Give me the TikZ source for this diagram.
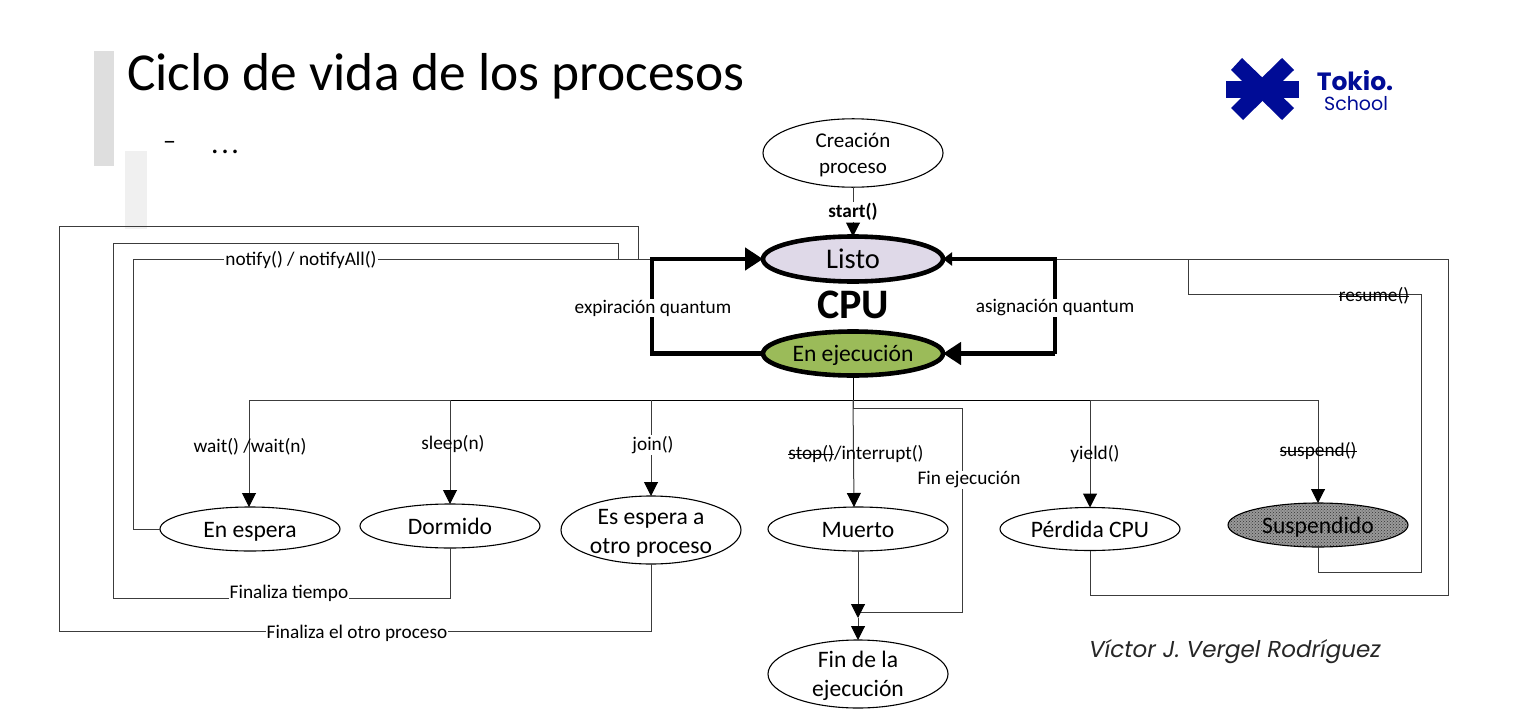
\documentclass[tikz,border=0pt]{standalone}
\usepackage{fontspec}
\setmainfont{Carlito}
\newfontfamily\logofont{Poppins}
\newfontfamily\signfont{Poppins}
\usetikzlibrary{arrows.meta,shapes.geometric,patterns}
\definecolor{tokio}{HTML}{000C96}
\definecolor{lineg}{HTML}{3C3C3C}
\definecolor{listocol}{HTML}{DFD9E8}
\definecolor{ejecol}{HTML}{9BBB59}
\newcommand\strk[1]{\sbox0{#1}\rlap{\rule[0.26em]{\wd0}{0.7pt}}\box0}
\newcommand\lw{\rule[-5pt]{0pt}{26pt}}
\tikzset{
  st/.style={draw=black,ellipse,fill=white,line width=1.1pt,inner sep=0pt,outer sep=0pt,minimum width=180pt,align=center,font=\fontsize{23.6}{29}\selectfont},
  cpust/.style={st,line width=4.6pt},
  twolines/.style={st,minimum height=68pt,inner ysep=-6pt},
  lnk/.style={draw=lineg,line width=1pt},
  arr/.style={lnk,-{Triangle[length=14pt,width=14pt,color=black,fill=black]}},
  heavy/.style={draw=black,line width=4.6pt,line join=miter},
  lab/.style={inner sep=1pt,font=\fontsize{19.3}{22}\selectfont},
  labw/.style={lab,fill=white},
}
\begin{document}
\begin{tikzpicture}[x=1pt,y=-1pt]
\useasboundingbox (0,0) rectangle (1528,709);
\fill[white] (0,0) rectangle (1528,709);
% decorative bars
\fill[black!13] (94,51) rectangle (114,166);
\fill[black!6] (125,151) rectangle (147,229);
\node[anchor=west,inner sep=0pt,font=\fontsize{53.4}{60}\selectfont] (title) at (127,76) {Ciclo de vida de los procesos};
\node[anchor=west,inner sep=0pt,font=\fontsize{26}{30}\selectfont] (dash) at (163,145) {–};
\node[anchor=west,inner sep=0pt,font=\fontsize{30}{30}\selectfont] (dots) at (211,151.5) {.\kern2.5pt.\kern2.5pt.};
% logo
\fill[tokio] (1226,81) rectangle (1299,98);
\fill[tokio] (1231,70) -- (1242,58) -- (1294,108) -- (1282,120) -- cycle;
\fill[tokio] (1294,70) -- (1282,58) -- (1231,108) -- (1243,120) -- cycle;
\node[inner sep=0pt,text=tokio,font=\logofont\bfseries\fontsize{25}{28}\selectfont] (tokioname) at (1355,81) {Tokio.};
\node[inner sep=0pt,text=tokio,font=\logofont\fontsize{19}{24}\selectfont] (tokioschool) at (1356,103.5) {School};
% states
\node[st,minimum height=66pt,font=\fontsize{21}{26}\selectfont] (crea) at (853,153) {\rule{0pt}{19pt}Creación\\proceso};
\node[cpust,minimum height=45pt,fill=listocol,font=\fontsize{28.5}{30}\selectfont] (listo) at (853,259) {Listo};
\node[cpust,minimum height=44pt,fill=ejecol] (ejec) at (853,353.5) {\lw En ejecución};
\node[st,minimum height=44pt] (espera) at (250,529) {\lw En espera};
\node[st,minimum height=44pt] (dorm) at (450,526) {Dormido};
\node[twolines] (otro) at (651,530) {\lw Es espera a\\otro proceso};
\node[st,minimum height=44pt] (muerto) at (858,529) {\lw Muerto};
\node[st,minimum height=43pt] (perd) at (1090,529) {\lw Pérdida CPU};
\node[st,minimum height=44pt,preaction={fill=black!40},pattern=crosshatch dots,pattern color=black!80] (susp) at (1318,525) {};
\node[font=\fontsize{23.6}{29}\selectfont,inner sep=0pt] (susptxt) at (1318,525) {\lw Suspendido};
\node[twolines] (fin) at (858,674) {\lw Fin de la\\ejecución};
% coordinates
\coordinate (tl) at (652,259);
\coordinate (bl) at (652,353.5);
\coordinate (tr) at (1055,259);
\coordinate (br) at (1055,353.5);
\coordinate (hub) at (853,400);
\coordinate (a1) at (638,259); \coordinate (a2) at (638,226); \coordinate (a3) at (59,226); \coordinate (a4) at (59,631); \coordinate (a5) at (651,631);
\coordinate (b1) at (618,259); \coordinate (b2) at (618,243); \coordinate (b3) at (113,243); \coordinate (b4) at (113,598); \coordinate (b5) at (450,598);
\coordinate (c2) at (133,259); \coordinate (c3) at (133,529);
\coordinate (r1) at (1448,259); \coordinate (r2) at (1448,595); \coordinate (r3) at (1090,595);
\coordinate (s1) at (1188,259); \coordinate (s2) at (1188,294); \coordinate (s3) at (1421,294); \coordinate (s4) at (1421,572); \coordinate (s5) at (1318,572);
\coordinate (h1) at (249,400); \coordinate (h2) at (450,400); \coordinate (h3) at (651,400); \coordinate (h4) at (1090,400); \coordinate (h5) at (1318,400);
\coordinate (f0) at (853,408); \coordinate (f1) at (962,408); \coordinate (f2) at (962,612); \coordinate (f3) at (858,612); \coordinate (f4) at (858,618);
% thin connectors
\draw[lnk] (tl) -- (a1) -- (a2) -- (a3) -- (a4) -- (a5) -- (otro.south);
\draw[lnk] (a1) -- (b1) -- (b2) -- (b3) -- (b4) -- (b5) -- (dorm.south);
\draw[lnk] (b1) -- (c2) -- (c3) -- (espera.west);
\draw[lnk] (tr) -- (r1) -- (r2) -- (r3) -- (perd.south);
\draw[lnk] (s1) -- (s2) -- (s3) -- (s4) -- (s5) -- (susp.south);
\draw[arr] (crea.south) -- (listo.north);
\draw[lnk] (h1) -- (h5);
\draw[lnk,draw=black] (h2) -- (h4);
\draw[lnk,draw=black] (ejec.south) -- (hub);
\draw[arr] (h1) -- (espera.north -| h1);
\draw[arr] (h2) -- (dorm.north);
\draw[arr] (h3) -- (otro.north);
\draw[arr] (hub) -- (854,507);
\draw[arr] (h4) -- (perd.north);
\draw[arr] (h5) -- (susp.north);
\draw[lnk] (hub) -- (f0) -- (f1) -- (f2) -- (f3);
\draw[arr] (muerto.south) -- (f4);
\draw[arr] (f4) -- (fin.north);
% heavy connectors
\draw[heavy,-{Triangle[length=18pt,width=22pt]}] (ejec.west) -- (bl) -- (tl) -- (listo.west);
\draw[heavy,-{Triangle[length=9pt,width=13pt]}] (br) -- (tr) -- (listo.east);
\draw[heavy,-{Triangle[length=18pt,width=22pt]}] (br) -- (ejec.east);
% labels
\node[labw,font=\bfseries\fontsize{19.3}{22}\selectfont] (lstart) at (853,212) {start()};
\node[labw] (lnotify) at (301,259.5) {notify() / notifyAll()};
\node[labw] (lexp) at (653,308) {expiración quantum};
\node[labw] (lasig) at (1055,308) {asignación quantum};
\node[inner sep=0pt,font=\bfseries\fontsize{42}{46}\selectfont] (lcpu) at (853,305) {CPU};
\node[lab] (lwait) at (250,447) {wait() /wait(n)};
\node[lab] (lsleep) at (453,444) {sleep(n)};
\node[labw] (ljoin) at (653,445) {join()};
\node[lab] (lstop) at (856,454) {\strk{stop()}/interrupt()};
\node[labw] (lfinej) at (969,480) {Fin ejecución};
\node[lab] (lyield) at (1095,454) {yield()};
\node[lab] (lsusp) at (1318,451) {\strk{suspend()}};
\node[lab] (lres) at (1374,296) {\strk{resume()}};
\node[labw] (lftiempo) at (289,593) {Finaliza tiempo};
\node[labw] (lfotro) at (357,633) {Finaliza el otro proceso};
\node[inner sep=0pt,font=\signfont\itshape\fontsize{23}{26}\selectfont,text=black!85] (firma) at (1235,652) {Víctor J. Vergel Rodríguez};
\end{tikzpicture}
\end{document}
